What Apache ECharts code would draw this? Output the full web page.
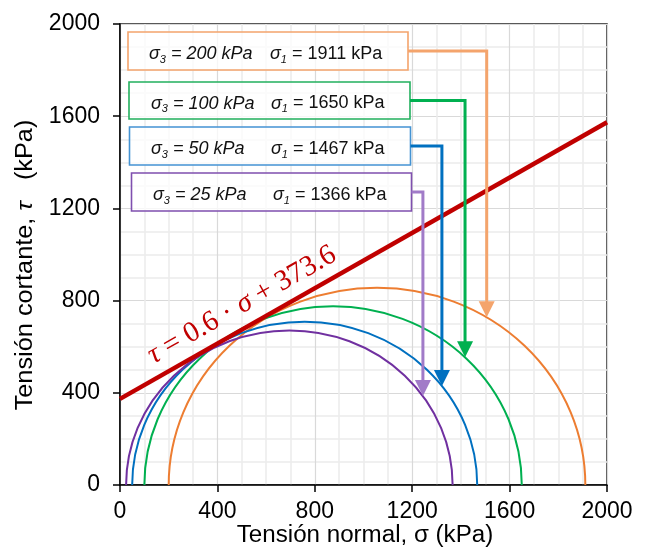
<!DOCTYPE html>
<html><head><meta charset="utf-8">
<script src="https://cdn.jsdelivr.net/npm/echarts@6/dist/echarts.min.js"></script>
<style>html,body{margin:0;padding:0;background:#fff}#c{width:646px;height:550px}</style>
</head><body><div id="c"></div>
<script>
// ---- data ----
const sigma3 = [200, 100, 50, 25];          // confining stress (kPa)
const sigma1 = [1911, 1650, 1467, 1366];    // major principal stress (kPa)
const envelopeSigma = [0, 2000];            // failure envelope end points
const envelopeTau = [373.6, 1573.6];
const xTicks = [0, 400, 800, 1200, 1600, 2000];
const yTicks = [0, 400, 800, 1200, 1600, 2000];

// ---- styles / layout ----
const circleColors = ['#ED7D31', '#00B050', '#0070C0', '#7030A0'];
const boxColors = ['#F4A46C', '#22B05E', '#4493D3', '#7F4FAF'];
const arrowColors = ['#F4A46C', '#00B050', '#0070C0', '#A17BC8'];
const boxRects = [[128, 32, 280, 38], [129, 82, 281, 37], [129.5, 127, 281, 38], [131.5, 173, 280, 38]];
const arrowSigma = [1506, 1417, 1322, 1244];
const leftTextX = [149, 151, 151, 153];
const rightTextX = [270, 271, 271, 273];
const FONT = '"Liberation Sans", Arial, sans-serif';
const SERIF = '"Liberation Serif", "DejaVu Serif", serif';

const chart = echarts.init(document.getElementById('c'), null, {renderer: 'canvas'});

const axisCommon = {
  type: 'value', min: 0, max: 2000, interval: 400,
  axisLine: {show: true, onZero: false, lineStyle: {color: '#000', width: 1.5}},
  axisTick: {show: true, length: 7, lineStyle: {color: '#000', width: 1.5}},
  splitLine: {show: true, lineStyle: {color: '#D9D9D9', width: 1.2}},
  minorTick: {show: false, splitNumber: 4},
  minorSplitLine: {show: true, lineStyle: {color: '#EBEBEB', width: 1.5}},
};

const option = {
  animation: false,
  backgroundColor: '#fff',
  grid: {left: 120, right: 39, top: 24, bottom: 65, show: true, borderColor: '#222', borderWidth: 1.5},
  xAxis: Object.assign({}, axisCommon, {
    axisLabel: {fontSize: 23, color: '#000', fontFamily: FONT, margin: 15,
      formatter: v => xTicks.includes(v) ? String(v) : ''}
  }),
  yAxis: Object.assign({}, axisCommon, {
    axisLabel: {fontSize: 23, color: '#000', fontFamily: FONT, margin: 20,
      formatter: v => yTicks.includes(v) ? String(v) : ''}
  }),
  series: [
    {
      type: 'custom',
      name: 'circles',
      data: sigma3.map((s, i) => [s, sigma1[i]]),
      encode: {x: [0, 1]},
      z: 2,
      renderItem: function (params, api) {
        const s3 = api.value(0), s1 = api.value(1);
        const p1 = api.coord([s3, 0]);
        const p2 = api.coord([s1, 0]);
        const rx = (p2[0] - p1[0]) / 2;
        const ry = Math.abs(api.size([0, (s1 - s3) / 2])[1]);
        return {
          type: 'path',
          shape: {pathData: `M ${p1[0]} ${p1[1]} A ${rx} ${ry} 0 0 1 ${p2[0]} ${p2[1]}`},
          style: {stroke: circleColors[params.dataIndex], fill: null, lineWidth: 2}
        };
      }
    },
    {
      type: 'line',
      name: 'envelope',
      data: envelopeSigma.map((s, i) => [s, envelopeTau[i]]),
      symbol: 'none',
      z: 3,
      lineStyle: {color: '#C00000', width: 4.5},
      itemStyle: {color: '#C00000'}
    }
  ]
};
chart.setOption(option);

const px = (x, y) => chart.convertToPixel({gridIndex: 0}, [x, y]);
const graphics = [];

// axis titles
graphics.push({
  type: 'text', x: 365, y: 536, z: 10, scaleX: 1.05,
  style: {text: 'Tensión normal, σ (kPa)', font: `23px ${FONT}`, fill: '#000', align: 'center', verticalAlign: 'middle'}
});
graphics.push({
  type: 'text', x: 26, y: 265, rotation: Math.PI / 2, z: 10, scaleX: 1.1,
  style: {
    text: 'Tensión cortante, {i|τ}   (kPa)', fontFamily: FONT, fontSize: 23, fill: '#000', align: 'center', verticalAlign: 'middle',
    rich: {i: {fontStyle: 'italic', fontSize: 23, fontFamily: FONT, fill: '#000'}}
  }
});

// equation
const e0 = px(0, envelopeTau[0]), e1 = px(2000, envelopeTau[1]);
const ang = Math.atan2(e0[1] - e1[1], e1[0] - e0[0]);
graphics.push({
  type: 'text', x: 242, y: 305, rotation: ang, z: 10,
  style: {
    text: '{i|τ} = 0.6 · {i|σ} + 373.6', fontFamily: SERIF, fontSize: 29, fill: '#C00000',
    align: 'center', verticalAlign: 'middle',
    rich: {i: {fontStyle: 'italic', fontSize: 29, fontFamily: SERIF, fill: '#C00000'}}
  }
});

// boxes + arrows
for (let i = 0; i < sigma3.length; i++) {
  const [bx, by, bw, bh] = boxRects[i];
  const ymid = by + bh / 2;
  const ty = by + bh / 2 + 3;
  graphics.push({type: 'rect', z: 20, shape: {x: bx, y: by, width: bw, height: bh},
    style: {fill: 'rgba(255,255,255,0.75)', stroke: boxColors[i], lineWidth: 1.6}});
  const richBase = {
    s: {fontStyle: 'italic', fontSize: 18, fontFamily: FONT, fill: '#111', lineHeight: 22},
    sub: {fontStyle: 'italic', fontSize: 11, fontFamily: FONT, fill: '#111', verticalAlign: 'bottom', lineHeight: 22},
    n: {fontSize: 18, fontFamily: FONT, fill: '#111', lineHeight: 22}
  };
  graphics.push({type: 'text', z: 21, x: leftTextX[i], y: ty,
    style: {text: `{s|σ}{sub|3}{s| = ${sigma3[i]} kPa}`, rich: richBase, align: 'left', verticalAlign: 'middle'}});
  graphics.push({type: 'text', z: 21, x: rightTextX[i], y: ty,
    style: {text: `{s|σ}{sub|1}{n| = ${sigma1[i]} kPa}`, rich: richBase, align: 'left', verticalAlign: 'middle'}});

  const c = (sigma1[i] + sigma3[i]) / 2, r = (sigma1[i] - sigma3[i]) / 2;
  const tauTip = Math.sqrt(r * r - (arrowSigma[i] - c) * (arrowSigma[i] - c));
  const tip = px(arrowSigma[i], tauTip);
  const ax = tip[0];
  graphics.push({type: 'polyline', z: 22,
    shape: {points: [[bx + bw, ymid], [ax, ymid], [ax, tip[1] - 12]]},
    style: {stroke: arrowColors[i], lineWidth: 3, fill: null}});
  graphics.push({type: 'polygon', z: 22,
    shape: {points: [[ax - 8, tip[1] - 16], [ax + 8, tip[1] - 16], [ax, tip[1]]]},
    style: {fill: arrowColors[i]}});
}
chart.setOption({graphic: graphics});
</script></body></html>
